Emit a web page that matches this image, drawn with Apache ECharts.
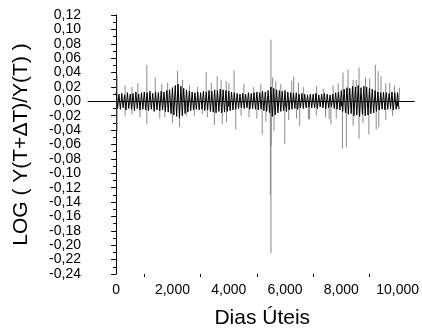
<!DOCTYPE html>
<html>
<head>
<meta charset="utf-8">
<script src="https://cdn.jsdelivr.net/npm/echarts@6/dist/echarts.min.js"></script>
<style>
html, body { margin: 0; padding: 0; background: #fff; }
#chart { width: 422px; height: 334px; }
</style>
</head>
<body>
<div id="chart"></div>
<script>
// dias iniciais de cada bloco de 100 dias
var days = [];
for (var d = 0; d <= 10000; d += 100) days.push(d);

// faixa densa (nucleo) - maximo e minimo em cada bloco
var coreHi = [
	0.012, 0.010, 0.011, 0.009, 0.012, 0.010, 0.011, 0.013, 0.010, 0.012,
	0.013, 0.012, 0.014, 0.011, 0.013, 0.012, 0.014, 0.013, 0.015, 0.016,
	0.019, 0.022, 0.024, 0.021, 0.018, 0.016, 0.014, 0.013, 0.012, 0.013,
	0.012, 0.014, 0.013, 0.015, 0.014, 0.016, 0.015, 0.017, 0.016, 0.015,
	0.014, 0.013, 0.012, 0.011, 0.010, 0.011, 0.010, 0.012, 0.011, 0.012,
	0.013, 0.012, 0.014, 0.013, 0.015, 0.020, 0.018, 0.016, 0.015, 0.014,
	0.015, 0.013, 0.012, 0.011, 0.012, 0.010, 0.011, 0.010, 0.009, 0.010,
	0.010, 0.011, 0.009, 0.010, 0.011, 0.010, 0.009, 0.010, 0.012, 0.013,
	0.015, 0.017, 0.019, 0.018, 0.021, 0.020, 0.022, 0.019, 0.021, 0.020,
	0.018, 0.017, 0.015, 0.013, 0.012, 0.013, 0.012, 0.011, 0.013, 0.012,
	0.012
];
var coreLo = [
	-0.010, -0.011, -0.009, -0.012, -0.010, -0.011, -0.013, -0.010, -0.012, -0.011,
	-0.012, -0.013, -0.011, -0.014, -0.012, -0.013, -0.012, -0.014, -0.015, -0.017,
	-0.019, -0.021, -0.023, -0.020, -0.017, -0.015, -0.013, -0.012, -0.011, -0.012,
	-0.011, -0.013, -0.012, -0.014, -0.015, -0.016, -0.014, -0.016, -0.015, -0.014,
	-0.013, -0.012, -0.011, -0.010, -0.009, -0.010, -0.009, -0.011, -0.010, -0.011,
	-0.012, -0.011, -0.013, -0.014, -0.016, -0.021, -0.019, -0.016, -0.014, -0.013,
	-0.014, -0.012, -0.011, -0.010, -0.011, -0.009, -0.010, -0.009, -0.008, -0.009,
	-0.009, -0.010, -0.008, -0.009, -0.010, -0.009, -0.008, -0.010, -0.011, -0.012,
	-0.014, -0.016, -0.018, -0.017, -0.020, -0.019, -0.021, -0.018, -0.020, -0.019,
	-0.017, -0.016, -0.014, -0.012, -0.011, -0.012, -0.011, -0.010, -0.012, -0.011,
	-0.011
];

// picos isolados (dia, valor)
var spikeDays = [
	35, 1090, 1390, 2180, 2360, 3200, 3590, 4190, 3910, 4540,
	5500, 5560, 5670, 6240, 6310, 6480, 7120, 8060, 8240, 8530,
	8630, 8860, 9210, 9310, 9410, 9720, 10060,
	320, 560, 770, 1620, 1830, 2610, 2890, 3380, 3730, 4010,
	4890, 5140, 5850, 6650, 7360, 7710, 7890, 8420, 9010, 9580, 9890,
	35, 1090, 845, 2000, 2250, 2490, 2780, 3490, 3770, 3920,
	4250, 4720, 5190, 5500, 5480, 5510, 5610, 5990, 6520, 6830,
	6870, 7440, 7570, 7630, 8040, 8180, 8630, 8980, 9240, 9330,
	320, 560, 1550, 1730, 3060, 3240, 4440, 5000, 5320, 6130,
	6410, 7110, 7820, 8420, 8770, 9580, 9820
];
var spikeVals = [
	0.037, 0.050, 0.033, 0.042, 0.030, 0.040, 0.035, 0.043, 0.028, 0.024,
	0.0855, 0.033, 0.028, 0.029, 0.034, 0.026, 0.021, 0.040, 0.044, 0.030,
	0.047, 0.033, 0.051, 0.042, 0.035, 0.026, 0.019,
	0.022, 0.020, 0.025, 0.024, 0.026, 0.022, 0.020, 0.026, 0.030, 0.025,
	0.020, 0.024, 0.024, 0.020, 0.018, 0.022, 0.025, 0.030, 0.032, 0.025, 0.022,
	-0.042, -0.032, -0.022, -0.030, -0.036, -0.020, -0.020, -0.033, -0.032, -0.029,
	-0.039, -0.022, -0.046, -0.211, -0.131, -0.062, -0.041, -0.059, -0.034, -0.025,
	-0.025, -0.022, -0.025, -0.032, -0.066, -0.064, -0.052, -0.046, -0.039, -0.036,
	-0.020, -0.018, -0.024, -0.022, -0.018, -0.022, -0.020, -0.024, -0.028, -0.026,
	-0.024, -0.020, -0.024, -0.034, -0.030, -0.026, -0.020
];

var xLabels = [0, 2000, 4000, 6000, 8000, 10000];
var xMinor = [1000, 3000, 5000, 7000, 9000];

var coreData = [];
for (var i = 0; i < days.length; i++) {
	coreData.push([days[i], coreHi[i]]);
	coreData.push([days[i] + 50, coreLo[i]]);
}
var spikeData = [];
for (var j = 0; j < spikeDays.length; j++) {
	spikeData.push([spikeDays[j], spikeVals[j]]);
}

var font = 'Liberation Sans, Arial, sans-serif';
var chart = echarts.init(document.getElementById('chart'));
chart.setOption({
	animation : false,
	backgroundColor : '#fff',
	grid : {
		left : 88,
		top : 15,
		right : 5,
		bottom : 58
	},
	xAxis : [ {
		type : 'value',
		min : -1000,
		max : 10600,
		name : 'Dias Úteis',
		nameLocation : 'middle',
		nameGap : 34,
		nameTextStyle : {
			fontFamily : font,
			fontSize : 21,
			color : '#000',
			padding : [ 0, 0, 0, 22 ]
		},
		axisLine : { lineStyle : { color : '#000', width : 1 } },
		axisTick : { customValues : xLabels, length : 5, lineStyle : { color : '#000' } },
		axisLabel : {
			customValues : xLabels,
			margin : 9,
			fontFamily : font,
			fontSize : 14,
			color : '#000'
		},
		splitLine : { show : false }
	}, {
		type : 'value',
		min : -1000,
		max : 10600,
		position : 'bottom',
		axisLine : { show : false },
		axisTick : { customValues : xMinor, length : 3, lineStyle : { color : '#000' } },
		axisLabel : { show : false },
		splitLine : { show : false }
	} ],
	yAxis : {
		type : 'value',
		min : -0.24,
		max : 0.12,
		interval : 0.02,
		name : 'LOG ( Y(T+ΔT)/Y(T) )',
		nameLocation : 'middle',
		nameGap : 56,
		nameTextStyle : {
			fontFamily : font,
			fontSize : 21,
			color : '#000'
		},
		axisLine : { show : true, lineStyle : { color : '#000', width : 1 } },
		axisTick : { length : 5, lineStyle : { color : '#000' } },
		minorTick : { show : true, splitNumber : 2, length : 3, lineStyle : { color : '#000' } },
		axisLabel : {
			margin : 7,
			fontFamily : font,
			fontSize : 14,
			color : '#000',
			formatter : function(v) {
				return v.toFixed(2).replace('.', ',');
			}
		},
		splitLine : { show : false },
		minorSplitLine : { show : false }
	},
	series : [ {
		type : 'bar',
		xAxisIndex : 0,
		data : spikeData,
		barWidth : 1,
		itemStyle : { color : '#8a8a8a' },
		z : 1
	}, {
		type : 'line',
		xAxisIndex : 0,
		data : coreData,
		showSymbol : false,
		symbol : 'none',
		lineStyle : { color : '#000', width : 1 },
		z : 2
	} ]
});
</script>
</body>
</html>
